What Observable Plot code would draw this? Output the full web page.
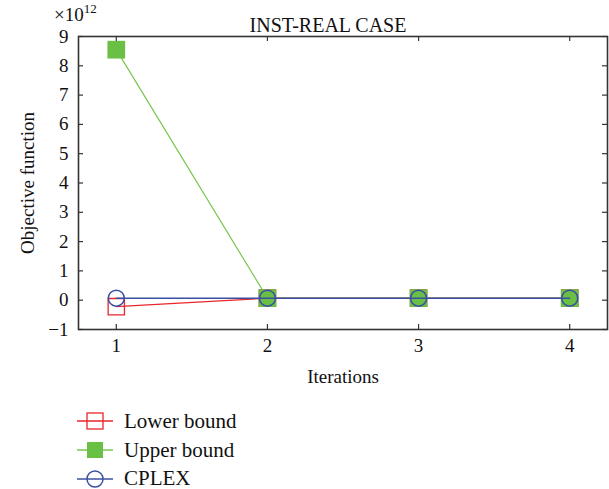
<!DOCTYPE html>
<html>
<head>
<meta charset="utf-8">
<script src="https://cdn.jsdelivr.net/npm/d3@7"></script>
<script src="https://cdn.jsdelivr.net/npm/@observablehq/plot@0.6"></script>
<style>
  body { margin: 0; background: #fff; font-family: "Liberation Serif", serif; color: #111; }
  #wrap { position: relative; width: 609px; height: 489px; }
  #exp { position: absolute; left: 54px; top: 3px; font-size: 19px; line-height: 1; }
  #exp sup { font-size: 13px; line-height: 1; position: relative; top: -1px; }
  #legend { padding: 12px 0 0 77px; }
  .row { display: flex; align-items: center; height: 28.8px; font-size: 21px; line-height: 1; }
  .row svg { margin-right: 11px; }
</style>
</head>
<body>
<div id="wrap">
  <div id="chart"></div>
  <div id="exp">×10<sup>12</sup></div>
  <div id="legend"></div>
</div>
<script>
// Values in units of 10^12
const iterations = [1, 2, 3, 4];
const lowerBound = [-0.22, 0.07, 0.07, 0.07];
const upperBound = [8.55, 0.07, 0.07, 0.07];
const cplex = [0.07, 0.07, 0.07, 0.07];
const seriesNames = ["Lower bound", "Upper bound", "CPLEX"];
const xTicks = [1, 2, 3, 4];
const yTicks = [-1, 0, 1, 2, 3, 4, 5, 6, 7, 8, 9];

const colors = { "Lower bound": "#e8262c", "Upper bound": "#78c650", "CPLEX": "#3a50a2" };
const greenFill = "#6abf45";

const toRows = (vals, name) => iterations.map((it, i) => ({ x: it, y: vals[i], series: name }));
const lowerRows = toRows(lowerBound, "Lower bound");
const upperRows = toRows(upperBound, "Upper bound");
const cplexRows = toRows(cplex, "CPLEX");

const W = 609, H = 395, mL = 78, mR = 2, mT = 36, mB = 66;
const fw = W - mL - mR, fh = H - mT - mB, tk = 5;

const chart = Plot.plot({
  width: W, height: H,
  marginLeft: mL, marginRight: mR, marginTop: mT, marginBottom: mB,
  style: { fontFamily: "Liberation Serif, serif", fontSize: "19px", color: "#111", background: "#fff" },
  x: { domain: [0.75, 4.25] },
  y: { domain: [-1, 9] },
  marks: [
    Plot.axisX(xTicks, { tickSize: 0, tickPadding: 9, fontSize: 19, tickFormat: d3.format("d"), label: "Iterations", labelAnchor: "center", labelOffset: 53, labelArrow: "none" }),
    Plot.axisY(yTicks, { tickSize: 0, tickPadding: 10, fontSize: 19, tickFormat: d => d < 0 ? "\u2212" + Math.abs(d) : String(d), label: "Objective function", labelAnchor: "center", labelOffset: 58, labelArrow: "none" }),
    Plot.tickY(yTicks, { y: d => d, insetRight: fw - tk, stroke: "#333", strokeWidth: 1.2 }),
    Plot.tickY(yTicks, { y: d => d, insetLeft: fw - tk, stroke: "#333", strokeWidth: 1.2 }),
    Plot.tickX(xTicks, { x: d => d, insetTop: fh - tk, stroke: "#333", strokeWidth: 1.2 }),
    Plot.tickX(xTicks, { x: d => d, insetBottom: fh - tk, stroke: "#333", strokeWidth: 1.2 }),
    Plot.frame({ stroke: "#333", strokeWidth: 1.6 }),
    Plot.text(["INST-REAL CASE"], { frameAnchor: "top", dx: -15, dy: -19, fontSize: 20, fill: "#111" }),
    // Lower bound
    Plot.line(lowerRows, { x: "x", y: "y", stroke: colors["Lower bound"], strokeWidth: 1.2 }),
    Plot.dot(lowerRows, { x: "x", y: "y", symbol: "square", r: 9.2, stroke: colors["Lower bound"], fill: "none", strokeWidth: 1.3 }),
    // Upper bound
    Plot.line(upperRows, { x: "x", y: "y", stroke: colors["Upper bound"], strokeWidth: 1.2 }),
    Plot.dot(upperRows, { x: "x", y: "y", symbol: "square", r: 10, fill: greenFill, stroke: "none" }),
    // CPLEX
    Plot.line(cplexRows, { x: "x", y: "y", stroke: colors["CPLEX"], strokeWidth: 1.5 }),
    Plot.dot(cplexRows, { x: "x", y: "y", symbol: "circle", r: 8, stroke: colors["CPLEX"], fill: "none", strokeWidth: 1.5 })
  ]
});
document.getElementById("chart").appendChild(chart);

// Legend
const legend = d3.select("#legend");
seriesNames.forEach(name => {
  const row = legend.append("div").attr("class", "row");
  const s = row.append("svg").attr("width", 36).attr("height", 24);
  s.append("line").attr("x1", 0).attr("x2", 36).attr("y1", 12).attr("y2", 12)
    .attr("stroke", colors[name]).attr("stroke-width", 1.3);
  if (name === "Lower bound") {
    s.append("rect").attr("x", 10).attr("y", 4).attr("width", 16).attr("height", 16)
      .attr("fill", "none").attr("stroke", colors[name]).attr("stroke-width", 1.3);
  } else if (name === "Upper bound") {
    s.append("rect").attr("x", 10).attr("y", 4).attr("width", 16).attr("height", 16).attr("fill", greenFill);
  } else {
    s.append("circle").attr("cx", 18).attr("cy", 12).attr("r", 8)
      .attr("fill", "none").attr("stroke", colors[name]).attr("stroke-width", 1.5);
  }
  row.append("span").text(name);
});
</script>
</body>
</html>
